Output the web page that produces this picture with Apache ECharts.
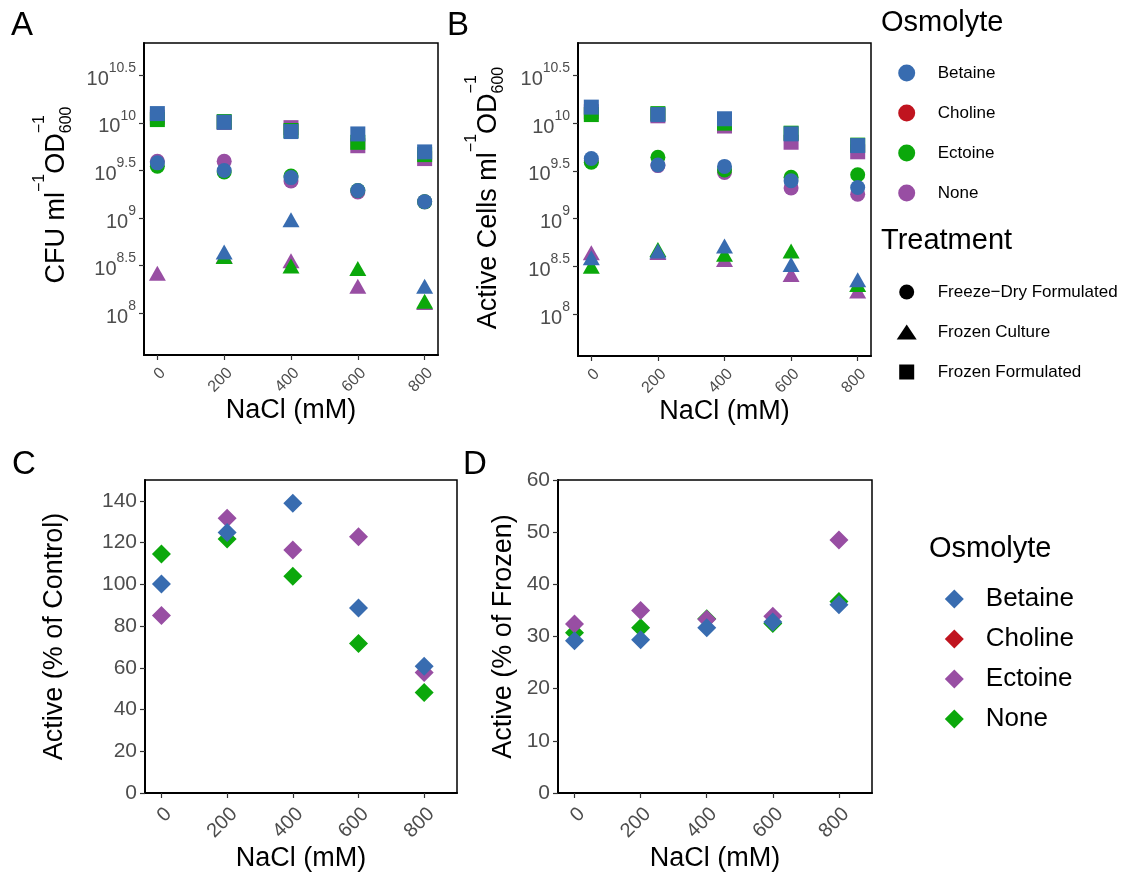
<!DOCTYPE html>
<html>
<head>
<meta charset="utf-8">
<script src="https://cdn.jsdelivr.net/npm/echarts@6/dist/echarts.min.js"></script>
<style>
  html, body { margin: 0; padding: 0; background: #fff; }
  #chart { width: 1133px; height: 872px; }
</style>
</head>
<body>
<div id="chart"></div>
<script>
// ---------------- DATA ----------------
const nacl = [0, 200, 400, 600, 800];
const naclTicks = [0, 200, 400, 600, 800];
const logTicks = [8, 8.5, 9, 9.5, 10, 10.5];           // exponents of 10
const pctControlTicks = [0, 20, 40, 60, 80, 100, 120, 140];
const pctFrozenTicks = [0, 10, 20, 30, 40, 50, 60];

const osmolytes = ['Betaine', 'Choline', 'Ectoine', 'None'];
const treatments = ['Freeze\u2212Dry Formulated', 'Frozen Culture', 'Frozen Formulated'];

// Panel A: log10 CFU ml^-1 OD600^-1
const cfuFreezeDryBetaine = [9.58, 9.50, 9.425, 9.29, 9.172];
const cfuFreezeDryEctoine = [9.544, 9.484, 9.442, 9.29, 9.17];
const cfuFreezeDryNone    = [9.596, 9.596, 9.39, 9.274, 9.17];
const cfuCultureBetaine   = [null, 8.642, 8.982, null, 8.284];
const cfuCultureEctoine   = [null, 8.596, 8.495, 8.47, 8.126];
const cfuCultureNone      = [8.42, 8.60, 8.55, 8.284, 8.112];
const cfuFormulatedBetaine = [10.098, 10.007, 9.909, 9.884, 9.695];
const cfuFormulatedEctoine = [10.035, 10.014, 9.92, 9.796, 9.667];
const cfuFormulatedNone    = [10.06, 10.005, 9.95, 9.76, 9.625];

// Panel B: log10 Active Cells ml^-1 OD600^-1
const actFreezeDryBetaine = [9.63, 9.561, 9.547, 9.396, 9.326];
const actFreezeDryEctoine = [9.59, 9.642, 9.51, 9.432, 9.46];
const actFreezeDryNone    = [9.605, 9.555, 9.484, 9.32, 9.256];
const actCultureBetaine   = [8.589, 8.66, 8.712, 8.52, 8.36];
const actCultureEctoine   = [8.50, 8.677, 8.625, 8.66, 8.31];
const actCultureNone      = [8.642, 8.645, 8.572, 8.414, 8.24];
const actFormulatedBetaine = [10.168, 10.09, 10.046, 9.888, 9.765];
const actFormulatedEctoine = [10.09, 10.10, 10.0, 9.895, 9.77];
const actFormulatedNone    = [10.12, 10.077, 9.97, 9.80, 9.70];

// Panel C: Active (% of Control)
const pctControlBetaine = [100.2, 124.9, 138.9, 88.6, 60.8];
const pctControlEctoine = [85.1, 131.7, 116.4, 122.8, 57.7];
const pctControlNone    = [114.5, 121.7, 103.9, 71.6, 48.2];

// Panel D: Active (% of Frozen)
const pctFrozenBetaine = [29.2, 29.4, 31.7, 32.8, 36.1];
const pctFrozenEctoine = [32.4, 35.0, 33.3, 33.9, 48.5];
const pctFrozenNone    = [30.7, 31.7, 33.4, 32.5, 36.7];

// ---------------- STYLE ----------------
const FONT = '"Liberation Sans", Arial, Helvetica, sans-serif';
const BLUE = '#386CB0', RED = '#C0141F', GREEN = '#0BA80B', PURPLE = '#984EA3';
const TICKCOL = '#4D4D4D';

const chart = echarts.init(document.getElementById('chart'), null, { renderer: 'canvas' });

function pts(vals) {
  const out = [];
  vals.forEach((v, i) => { if (v !== null && v !== undefined) out.push([nacl[i], v]); });
  return out;
}
function sc(gi, name, vals, symbol, size, color) {
  return {
    type: 'scatter', name: name, xAxisIndex: gi, yAxisIndex: gi,
    data: pts(vals), symbol: symbol, symbolSize: size,
    itemStyle: { color: color, opacity: 1 },
    emphasis: { disabled: true }, silent: true
  };
}

const CIRC = 15, TRI = [17, 15], SQ = 15, DIA = 19;
const series = [];
// Panel A
series.push(sc(0, 'None', cfuFreezeDryNone, 'circle', CIRC, PURPLE));
series.push(sc(0, 'Ectoine', cfuFreezeDryEctoine, 'circle', CIRC, GREEN));
series.push(sc(0, 'Betaine', cfuFreezeDryBetaine, 'circle', CIRC, BLUE));
series.push(sc(0, 'None', cfuCultureNone, 'triangle', TRI, PURPLE));
series.push(sc(0, 'Ectoine', cfuCultureEctoine, 'triangle', TRI, GREEN));
series.push(sc(0, 'Betaine', cfuCultureBetaine, 'triangle', TRI, BLUE));
series.push(sc(0, 'None', cfuFormulatedNone, 'rect', SQ, PURPLE));
series.push(sc(0, 'Ectoine', cfuFormulatedEctoine, 'rect', SQ, GREEN));
series.push(sc(0, 'Betaine', cfuFormulatedBetaine, 'rect', SQ, BLUE));
// Panel B
series.push(sc(1, 'None', actFreezeDryNone, 'circle', CIRC, PURPLE));
series.push(sc(1, 'Ectoine', actFreezeDryEctoine, 'circle', CIRC, GREEN));
series.push(sc(1, 'Betaine', actFreezeDryBetaine, 'circle', CIRC, BLUE));
series.push(sc(1, 'None', actCultureNone, 'triangle', TRI, PURPLE));
series.push(sc(1, 'Ectoine', actCultureEctoine, 'triangle', TRI, GREEN));
series.push(sc(1, 'Betaine', actCultureBetaine, 'triangle', TRI, BLUE));
series.push(sc(1, 'None', actFormulatedNone, 'rect', SQ, PURPLE));
series.push(sc(1, 'Ectoine', actFormulatedEctoine, 'rect', SQ, GREEN));
series.push(sc(1, 'Betaine', actFormulatedBetaine, 'rect', SQ, BLUE));
// Panel C (Ectoine purple, None green in this legend)
series.push(sc(2, 'None', pctControlNone, 'diamond', DIA, GREEN));
series.push(sc(2, 'Ectoine', pctControlEctoine, 'diamond', DIA, PURPLE));
series.push(sc(2, 'Betaine', pctControlBetaine, 'diamond', DIA, BLUE));
// Panel D
series.push(sc(3, 'None', pctFrozenNone, 'diamond', DIA, GREEN));
series.push(sc(3, 'Ectoine', pctFrozenEctoine, 'diamond', DIA, PURPLE));
series.push(sc(3, 'Betaine', pctFrozenBetaine, 'diamond', DIA, BLUE));
// legend-only series
series.push(sc(0, 'Choline', [], 'circle', CIRC, RED));
series.push(sc(0, treatments[0], [], 'circle', CIRC, '#000'));
series.push(sc(0, treatments[1], [], 'triangle', TRI, '#000'));
series.push(sc(0, treatments[2], [], 'rect', SQ, '#000'));

// ---------------- AXES ----------------
const grids = [
  { left: 144, top: 43, width: 294, height: 312 },
  { left: 578, top: 43, width: 293, height: 313 },
  { left: 145, top: 480, width: 312, height: 313 },
  { left: 558, top: 480, width: 314, height: 313 }
].map(g => Object.assign(g, {
  show: true, borderColor: '#000', borderWidth: 1.5,
  backgroundColor: 'rgba(0,0,0,0)', containLabel: false, outerBoundsMode: 'none'
}));

function xAx(gi, min, max, fs, margin, nameGap) {
  return {
    gridIndex: gi, type: 'value', min: min, max: max,
    name: 'NaCl (mM)', nameLocation: 'middle', nameGap: nameGap, nameMoveOverlap: false,
    nameTextStyle: { fontSize: 27, color: '#000', fontFamily: FONT },
    splitLine: { show: false },
    axisLine: { show: true, onZero: false, lineStyle: { color: '#000', width: 2 } },
    axisTick: { show: true, length: 5, customValues: naclTicks, lineStyle: { color: '#333', width: 1.2 } },
    axisLabel: { show: true, customValues: naclTicks, rotate: 45, margin: margin,
      verticalAlign: 'top', align: 'right',
      fontSize: fs, color: TICKCOL, fontFamily: FONT, hideOverlap: false }
  };
}
function yLogAx(gi) {
  return {
    gridIndex: gi, type: 'value', min: 7.56, max: 10.84,
    splitLine: { show: false },
    axisLine: { show: true, onZero: false, lineStyle: { color: '#000', width: 2 } },
    axisTick: { show: true, length: 5, customValues: logTicks, lineStyle: { color: '#333', width: 1.2 } },
    axisLabel: {
      show: true, customValues: logTicks, margin: 8, color: TICKCOL, fontFamily: FONT, hideOverlap: false,
      formatter: v => '{b|10}{s|' + String(v) + '}',
      rich: {
        b: { fontSize: 20, color: TICKCOL, fontFamily: FONT, verticalAlign: 'bottom', lineHeight: 28 },
        s: { fontSize: 14, color: TICKCOL, fontFamily: FONT, verticalAlign: 'top', lineHeight: 28 }
      }
    }
  };
}
function yPctAx(gi, min, max, ticks, name, nameGap) {
  return {
    gridIndex: gi, type: 'value', min: min, max: max,
    name: name, nameLocation: 'middle', nameRotate: 90, nameGap: nameGap, nameMoveOverlap: false,
    nameTextStyle: { fontSize: 27, color: '#000', fontFamily: FONT },
    splitLine: { show: false },
    axisLine: { show: true, onZero: false, lineStyle: { color: '#000', width: 2 } },
    axisTick: { show: true, length: 5, customValues: ticks, lineStyle: { color: '#333', width: 1.2 } },
    axisLabel: { show: true, customValues: ticks, margin: 8, fontSize: 21, color: TICKCOL, fontFamily: FONT, hideOverlap: false }
  };
}

// ---------------- Y TITLES (A, B) with super/subscripts ----------------
const ctx = document.createElement('canvas').getContext('2d');
function tw(t, fs) { ctx.font = fs + 'px "Liberation Sans", Arial, sans-serif'; return ctx.measureText(t).width; }
function yTitle(cx, cy, mainText) {
  const MF = 27, SF = 16;
  const w1 = tw(mainText, MF), ws1 = tw('\u22121', SF), w2 = tw('OD', MF);
  const wsub = tw('600', SF), ws2 = tw('\u22121', SF);
  const total = w1 + ws1 + w2 + Math.max(wsub, ws2);
  let x = -total / 2;
  const mk = (t, xx, yy, fs) => ({
    type: 'text', x: xx, y: yy,
    style: { text: t, fontSize: fs, fontFamily: FONT, fill: '#000',
      textAlign: 'left', textVerticalAlign: 'middle', align: 'left', verticalAlign: 'middle' }
  });
  const kids = [];
  kids.push(mk(mainText, x, 0, MF)); x += w1;
  kids.push(mk('\u22121', x, -17, SF)); x += ws1;
  kids.push(mk('OD', x, 0, MF)); x += w2;
  kids.push(mk('\u22121', x, -17, SF));
  kids.push(mk('600', x, 10, SF));
  return { type: 'group', x: cx, y: cy, rotation: Math.PI / 2, children: kids, silent: true };
}
function label(t, x, y, fs) {
  return { type: 'text', x: x, y: y, silent: true,
    style: { text: t, fontSize: fs, fontFamily: FONT, fill: '#000',
      textAlign: 'left', textVerticalAlign: 'middle', align: 'left', verticalAlign: 'middle' } };
}

// ---------------- LEGENDS ----------------
const osmoColorsAB = [BLUE, RED, GREEN, PURPLE];
const osmoColorsCD = [BLUE, RED, PURPLE, GREEN];
const legends = [
  {
    orient: 'vertical', left: 893.2, top: 58, itemWidth: 17, itemHeight: 17, itemGap: 20,
    selectedMode: false, symbolKeepAspect: true,
    textStyle: { fontSize: 17, color: '#000', fontFamily: FONT, lineHeight: 20, padding: [0, 0, 0, 17.5] },
    data: osmolytes.map((n, i) => ({ name: n, icon: 'circle', itemStyle: { color: osmoColorsAB[i] } }))
  },
  {
    orient: 'vertical', left: 891.7, top: 277, itemWidth: 20, itemHeight: 15, itemGap: 20,
    selectedMode: false, symbolKeepAspect: true,
    textStyle: { fontSize: 17, color: '#000', fontFamily: FONT, lineHeight: 20, padding: [0, 0, 0, 16] },
    data: [
      { name: treatments[0], icon: 'circle', itemStyle: { color: '#000' } },
      { name: treatments[1], icon: 'triangle', itemStyle: { color: '#000' } },
      { name: treatments[2], icon: 'path://M0,0L10,0L10,10L0,10Z', itemStyle: { color: '#000' } }
    ]
  },
  {
    orient: 'vertical', left: 939.8, top: 581, itemWidth: 19, itemHeight: 19, itemGap: 14,
    selectedMode: false,
    textStyle: { fontSize: 26, color: '#000', fontFamily: FONT, lineHeight: 26, padding: [0, 0, 0, 17] },
    data: osmolytes.map((n, i) => ({ name: n, icon: 'diamond', itemStyle: { color: osmoColorsCD[i] } }))
  }
];

const option = {
  animation: false,
  backgroundColor: '#ffffff',
  textStyle: { fontFamily: FONT },
  grid: grids,
  xAxis: [
    xAx(0, -40, 840, 16, 10, 42),
    xAx(1, -40, 840, 16, 10, 42),
    xAx(2, -50, 900, 20, 11, 52),
    xAx(3, -50, 900, 20, 11, 52)
  ],
  yAxis: [
    yLogAx(0),
    yLogAx(1),
    yPctAx(2, 0, 150, pctControlTicks, 'Active (% of Control)', 77),
    yPctAx(3, 0, 60, pctFrozenTicks, 'Active (% of Frozen)', 41)
  ],
  legend: legends,
  series: series,
  graphic: [
    yTitle(57, 195, 'CFU ml'),
    yTitle(489, 198, 'Active Cells ml'),
    label('A', 11, 26, 33),
    label('B', 447, 26, 33),
    label('C', 12, 465, 33),
    label('D', 463, 465, 33),
    label('Osmolyte', 881, 23, 29),
    label('Treatment', 881, 241, 29),
    label('Osmolyte', 929, 549, 29)
  ]
};
chart.setOption(option);
</script>
</body>
</html>
